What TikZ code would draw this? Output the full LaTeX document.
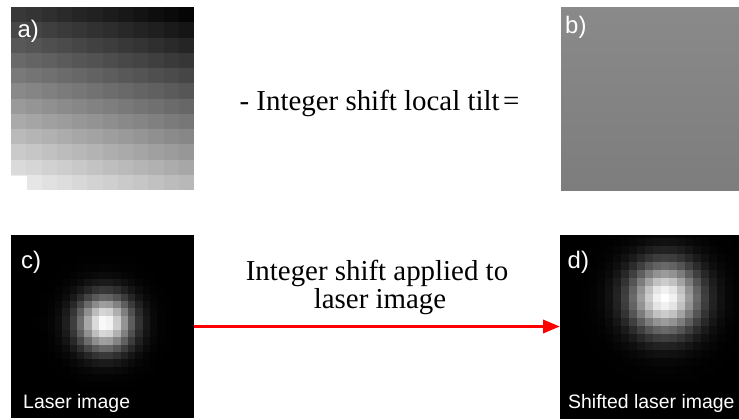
\documentclass[tikz,border=0pt]{standalone}
\usepackage{fontspec}
\setmainfont{Liberation Serif}
\newfontfamily\arialfont{Liberation Sans}
\usetikzlibrary{arrows.meta}
\begin{document}
\begin{tikzpicture}[x=1bp,y=-1bp,
  panel/.style={draw=none, inner sep=0, outer sep=0, anchor=north west},
  plabel/.style={text=white, font=\arialfont\fontsize{24}{24}\selectfont, inner sep=0, anchor=base west},
  caplabel/.style={text=white, font=\arialfont\fontsize{19.5}{20}\selectfont, inner sep=0, anchor=base west},
  maintext/.style={font=\fontsize{29}{28}\selectfont, inner sep=0, anchor=base},
  redarrow/.style={draw=red, line width=3.5bp, -{Triangle[length=17bp,width=13bp]}}]

\fill[white] (0,0) rectangle (739,419);
\useasboundingbox (0,0) rectangle (739,419);

% ---- panel a: tilt ramp
\node[panel, minimum width=183bp, minimum height=183bp] (pa) at (11,7) {};
\foreach \r in {0,...,11} {
  \foreach \c in {0,...,11} {
    \pgfmathsetmacro{\v}{max(0,min(98, 22 + 70*\r/11 - 20*\c/11))}
    \fill[white!\v!black] (11+\c*15.25, 7+\r*15.25) rectangle ++(15.35,15.35);
  }
}
\fill[white] (11,175.5) rectangle (27,190.5);

% ---- panel b: flat residual
\node[panel, minimum width=178bp, minimum height=183bp] (pb) at (561,7) {};
\shade[top color=white!54!black, bottom color=white!49!black] (pb.north west) rectangle (pb.south east);

% ---- panel c: laser spot
\node[panel, minimum width=183bp, minimum height=183bp, fill=black] (pc) at (11,235) {};
\begin{scope}
\clip (pc.north west) rectangle (pc.south east);
\foreach \i in {0,...,24} {
  \foreach \j in {0,...,24} {
    \pgfmathsetmacro{\dx}{(11+(\i+0.5)*7.32-105)/19}
    \pgfmathsetmacro{\dy}{(235+(\j+0.5)*7.32-323)/19}
    \pgfmathsetmacro{\v}{100*exp(-min(12,0.5*(\dx*\dx+\dy*\dy)))}
    \fill[white!\v!black] (11+\i*7.32, 235+\j*7.32) rectangle ++(7.42,7.42);
  }
}
\end{scope}

% ---- panel d: shifted laser spot
\node[panel, minimum width=179bp, minimum height=183bp, fill=black] (pd) at (560,235) {};
\begin{scope}
\clip (pd.north west) rectangle (pd.south east);
\foreach \i in {0,...,22} {
  \foreach \j in {0,...,23} {
    \pgfmathsetmacro{\dx}{(557+(\i+0.5)*8-665)/24}
    \pgfmathsetmacro{\dy}{(230+(\j+0.5)*8-298)/24}
    \pgfmathsetmacro{\v}{100*exp(-min(12,0.5*(\dx*\dx+\dy*\dy)))}
    \fill[white!\v!black] (557+\i*8, 230+\j*8) rectangle ++(8.1,8.1);
  }
}
\end{scope}

% ---- labels
\node[plabel] (la) at (17.5,37) {a)};
\node[plabel] (lb) at (565,33.5) {b)};
\node[plabel] (lc) at (21,268) {c)};
\node[plabel] (ld) at (567.5,268) {d)};
\node[caplabel] (lc2) at (23,408.3) {Laser image};
\node[caplabel] (ld2) at (568,408) {Shifted laser image};

% ---- texts
\node[maintext] (t1) at (379.5,110) {- Integer shift local tilt\hspace{0.12em}=};
\node[maintext] (t2) at (377,280) {Integer shift applied to};
\node[maintext] (t3) at (380,308.3) {laser image};

% ---- arrow
\draw[redarrow] (pc.east) -- (pd.west);
\end{tikzpicture}
\end{document}
